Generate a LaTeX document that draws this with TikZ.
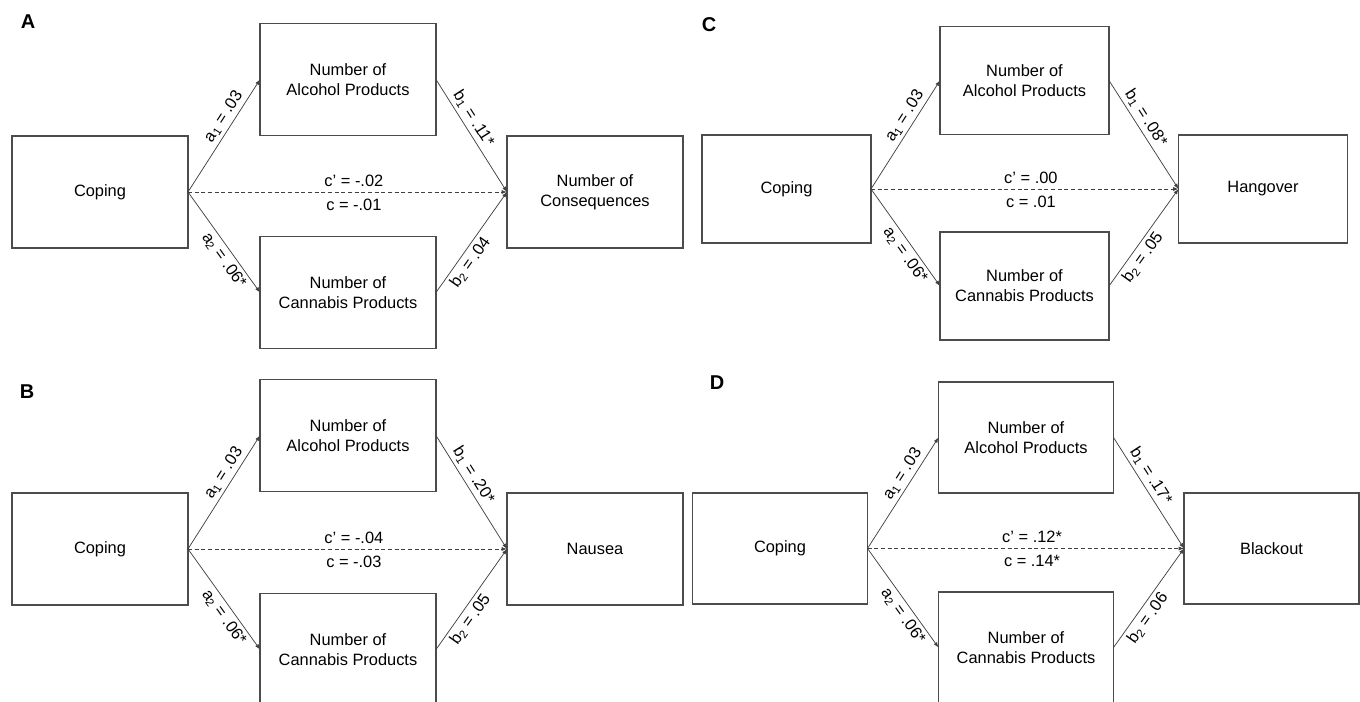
\documentclass[tikz,border=0pt]{standalone}
\usepackage{fontspec}
\setmainfont{Liberation Sans}
\usetikzlibrary{arrows.meta}

\begin{document}
\begin{tikzpicture}[x=0.75pt, y=-0.75pt, every node/.style={font=\fontsize{12.3}{15}\selectfont}, >={Latex[length=4pt, width=3pt]},
	var/.style={draw=black!70, line width=0.8pt, align=center, outer sep=0pt, inner sep=0pt},
	link/.style={->, draw=black!75, line width=0.55pt},
	coef/.style={sloped, inner sep=2.5pt}]
	\clip (0,0) rectangle (1360,702);
	\foreach \pan/\lx/\ly/\cx/\cy/\ax/\ay/\ny/\ox/\bw/\bh/\outtxt/\bone/\btwo/\cprime/\ctot in {
		A/28/22/100/192/348/79.5/292.5/595/176/112/{Number of\\Consequences}/.11*/.04/-.02/-.01,
		B/27/392/100/549/348/435.5/649.5/595/176/112/{Nausea}/.20*/.05/-.04/-.03,
		C/709/25/786.5/189/1024.5/80.5/286/1263/169/108/{Hangover}/.08*/.05/.00/.01,
		D/717/383/780/548.5/1026/437.5/647.5/1271.5/175/111/{Blackout}/.17*/.06/.12*/.14*} {
		\node[font=\fontsize{15}{18}\selectfont\bfseries] (let\pan) at (\lx,\ly) {\pan};
		\node[var, minimum width=0.75pt*\bw, minimum height=0.75pt*\bh] (cop\pan) at (\cx,\cy) {Coping};
		\node[var, minimum width=0.75pt*\bw, minimum height=0.75pt*\bh] (alc\pan) at (\ax,\ay) {Number of\\Alcohol Products};
		\node[var, minimum width=0.75pt*\bw, minimum height=0.75pt*\bh] (can\pan) at (\ax,\ny) {Number of\\Cannabis Products};
		\node[var, minimum width=0.75pt*\bw, minimum height=0.75pt*\bh] (out\pan) at (\ox,\cy) {\outtxt};
		\draw[link] (cop\pan.east) -- node[coef, pos=0.62, above] {a\textsubscript{1} = .03} (alc\pan.west);
		\draw[link] (cop\pan.east) -- node[coef, pos=0.62, below] {a\textsubscript{2} = .06*} (can\pan.west);
		\draw[link] (alc\pan.east) -- node[coef, pos=0.4, above] {b\textsubscript{1} = \bone} (out\pan.west);
		\draw[link] (can\pan.east) -- node[coef, pos=0.36, below] {b\textsubscript{2} = \btwo} (out\pan.west);
		\draw[link, dash pattern=on 3pt off 2pt] (cop\pan.east) -- node[pos=0.52, above, inner sep=4pt] {c' = \cprime} node[pos=0.52, below, inner sep=5pt] {c = \ctot} (out\pan.west);
	}
\end{tikzpicture}
\end{document}
